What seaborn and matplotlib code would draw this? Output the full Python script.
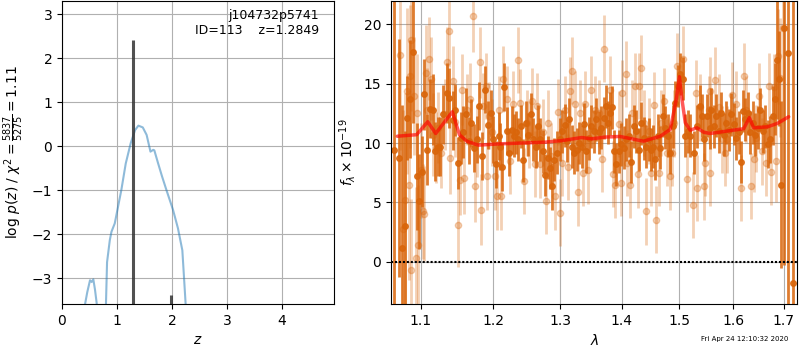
import numpy as np
import matplotlib
matplotlib.use("Agg")
import matplotlib.pyplot as plt
import matplotlib.ticker as mticker
import seaborn as sns

# ---- p(z) panel ----
pz_z = [0.40, 0.42, 0.46, 0.51, 0.54, 0.57, 0.60, 0.63, 0.66, 0.72, 0.78, 0.80, 0.82,
        0.87, 0.90, 0.96, 1.02, 1.08, 1.16, 1.25, 1.33, 1.39, 1.47, 1.54, 1.61, 1.66,
        1.68, 1.75, 1.82, 1.90, 2.02, 2.11, 2.19, 2.25, 2.27]
pz_logp = [-4.0, -3.58, -3.31, -3.04, -3.08, -3.02, -3.25, -3.55, -4.0, -5.0, -4.0, -3.58, -2.63,
           -2.13, -1.94, -1.75, -1.37, -0.99, -0.39, 0.07, 0.37, 0.47, 0.43, 0.26, -0.12, -0.08,
           -0.09, -0.39, -0.68, -0.99, -1.44, -1.86, -2.36, -3.58, -4.2]
zbar_z = [1.2849, 1.976]
zbar_top = [2.42, -3.37]

# ---- spectrum panel: beam 1 (dark) ----
wave1 = [1.0649, 1.0717, 1.0756, 1.0791, 1.0821, 1.0856, 1.0899, 1.0944, 1.0975, 1.1010,
         1.1045, 1.1084, 1.1120, 1.1156, 1.1187, 1.1223, 1.1255, 1.1299, 1.1346, 1.1381,
         1.1427, 1.1459, 1.1496, 1.1538, 1.1574, 1.1612, 1.1650, 1.1682, 1.1724, 1.1762,
         1.1799, 1.1842, 1.1880, 1.1919, 1.1962, 1.1999, 1.2039, 1.2078, 1.2097, 1.2130,
         1.2159, 1.2194, 1.2232, 1.2267, 1.2301, 1.2331, 1.2365, 1.2405, 1.2440, 1.2480,
         1.2515, 1.2555, 1.2590, 1.2626, 1.2657, 1.2692, 1.2733, 1.2769, 1.2810, 1.2846,
         1.2881, 1.2912, 1.2949, 1.2990, 1.3027, 1.3068, 1.3105, 1.3142, 1.3184, 1.3221,
         1.3258, 1.3301, 1.3344, 1.3376, 1.3414, 1.3451, 1.3494, 1.3531, 1.3571, 1.3613,
         1.3657, 1.3695, 1.3731, 1.3764, 1.3797, 1.3827, 1.3872, 1.3906, 1.3944, 1.3984,
         1.4028, 1.4068, 1.4112, 1.4153, 1.4198, 1.4244, 1.4284, 1.4330, 1.4370, 1.4417,
         1.4456, 1.4498, 1.4533, 1.4573, 1.4613, 1.4661, 1.4708, 1.4749, 1.4790, 1.4838,
         1.4886, 1.4928, 1.4969, 1.5017, 1.5066, 1.5108, 1.5150, 1.5199, 1.5259, 1.5322,
         1.5370, 1.5414, 1.5457, 1.5507, 1.5555, 1.5588, 1.5630, 1.5676, 1.5725, 1.5770,
         1.5820, 1.5871, 1.5915, 1.5960, 1.6010, 1.6063, 1.6107, 1.6146, 1.6192, 1.6237,
         1.6282, 1.6335, 1.6389, 1.6434, 1.6480, 1.6533, 1.6587, 1.6633, 1.6679, 1.6733,
         1.6779, 1.6828, 1.6868, 1.6909, 1.6955, 1.7017, 1.7084, 1.7187]
flux1 = [9.45, 8.75, 1.2, 3.0, 12.1, 13.7, 17.7, 7.2, 5.1, 7.6,
         14.1, 9.45, 12.9, 12.8, 9.3, 9.7, 9.7, 12.4, 14.2, 13.8,
         11.9, 12.8, 8.3, 10.4, 10.9, 12.4, 10.2, 11.7, 9.6, 10.3,
         13.1, 8.9, 14.5, 11.5, 12.5, 10.3, 8.2, 10.6, 9.7, 8.0,
         14.7, 11.0, 9.2, 11.1, 10.6, 10.9, 10.3, 11.4, 8.55, 11.7,
         10.7, 12.4, 10.3, 9.7, 11.4, 10.3, 9.3, 7.3, 8.75, 7.9,
         6.35, 8.6, 9.2, 10.3, 11.0, 11.5, 10.2, 12.0, 9.7, 9.2,
         9.45, 10.0, 9.7, 11.6, 9.3, 10.4, 11.4, 11.0, 12.0, 10.9,
         11.3, 12.1, 13.1, 11.7, 12.5, 13.0, 9.3, 8.2, 9.3, 9.9,
         9.6, 10.3, 10.6, 8.4, 11.4, 11.0, 9.45, 11.65, 10.4, 9.7,
         10.3, 9.45, 9.7, 8.65, 10.6, 9.6, 12.3, 11.3, 10.6, 9.2,
         11.4, 13.4, 14.8, 15.8, 15.4, 10.6, 11.0, 10.6, 9.2, 11.4,
         13.1, 12.3, 10.3, 12.3, 11.3, 12.8, 11.4, 12.3, 11.0, 12.5,
         10.7, 11.7, 11.1, 12.4, 11.6, 10.4, 10.9, 8.4, 12.7, 12.0,
         12.5, 10.9, 11.7, 10.7, 11.3, 12.8, 11.0, 11.4, 9.9, 10.3,
         12.3, 13.7, 17.0, 15.4, 6.5, 19.7, 17.6, -1.8]
err1 = [15, 10, 12, 8, 3.5, 5, 6, 4.5, 4, 3,
        3, 3, 2.5, 3, 2.5, 2.5, 2.5, 2.5, 2.5, 2.5,
        2.5, 2.2, 2.2, 2.2, 2.2, 2.2, 2.0, 2.0, 2.0, 2.0,
        2.0, 2.0, 2.0, 2.0, 2.0, 2.0, 2.0, 2.0, 2.0, 2.0,
        2.0, 2.0, 2.0, 2.0, 1.8, 1.8, 1.8, 1.8, 1.8, 1.8,
        1.8, 1.8, 1.8, 1.8, 1.8, 1.8, 1.8, 1.8, 1.8, 1.8,
        2.0, 1.8, 1.8, 1.8, 1.8, 1.8, 1.8, 1.8, 1.8, 1.8,
        1.8, 1.8, 1.8, 1.8, 1.8, 1.8, 1.8, 1.8, 1.8, 1.8,
        1.8, 1.8, 1.8, 1.8, 1.8, 1.8, 1.8, 1.8, 1.8, 1.8,
        1.8, 1.8, 1.8, 1.8, 1.8, 1.8, 1.8, 1.8, 1.8, 1.8,
        1.8, 1.8, 1.8, 1.8, 1.8, 1.8, 1.8, 1.8, 1.8, 1.8,
        1.8, 1.8, 1.8, 1.8, 1.8, 1.8, 1.8, 1.8, 1.8, 1.8,
        1.8, 1.8, 1.8, 1.8, 1.8, 1.8, 1.8, 1.8, 1.8, 1.8,
        1.8, 1.8, 1.8, 1.8, 1.8, 1.8, 1.8, 1.8, 1.8, 1.8,
        1.8, 1.8, 1.8, 1.8, 1.8, 1.8, 1.8, 1.8, 2.0, 2.0,
        2.5, 3.0, 5.0, 4.0, 7.0, 20.0, 25.0, 30.0]

# ---- spectrum panel: beam 2 (light) ----
wave2 = [1.0726, 1.0761, 1.0791, 1.0813, 1.0843, 1.0856, 1.0869, 1.0873, 1.0909, 1.0931,
         1.0952, 1.0965, 1.0997, 1.1023, 1.1045, 1.1063, 1.1084, 1.1111, 1.1137, 1.1164,
         1.1196, 1.1232, 1.1264, 1.1316, 1.1354, 1.1381, 1.1390, 1.1427, 1.1459, 1.1505,
         1.1528, 1.1552, 1.1584, 1.1619, 1.1668, 1.1714, 1.1738, 1.1771, 1.1806, 1.1827,
         1.1856, 1.1895, 1.1909, 1.1942, 1.1976, 1.2024, 1.2049, 1.2086, 1.2111, 1.2145,
         1.2203, 1.2242, 1.2291, 1.2356, 1.2390, 1.2455, 1.2491, 1.2530, 1.2575, 1.2616,
         1.2642, 1.2684, 1.2741, 1.2784, 1.2819, 1.2861, 1.2923, 1.2974, 1.2997, 1.3035,
         1.3079, 1.3121, 1.3157, 1.3194, 1.3237, 1.3274, 1.3317, 1.3354, 1.3386, 1.3441,
         1.3483, 1.3548, 1.3621, 1.3670, 1.3703, 1.3806, 1.3844, 1.3889, 1.3952, 1.3989,
         1.4009, 1.4074, 1.4094, 1.4129, 1.4170, 1.4215, 1.4266, 1.4292, 1.4318, 1.4378,
         1.4411, 1.4465, 1.4503, 1.4543, 1.4591, 1.4631, 1.4678, 1.4719, 1.4779, 1.4826,
         1.4869, 1.4910, 1.4958, 1.5059, 1.5139, 1.5248, 1.5303, 1.5327, 1.5383, 1.5444,
         1.5475, 1.5537, 1.5559, 1.5568, 1.5663, 1.5734, 1.5780, 1.5839, 1.5884, 1.5970,
         1.6057, 1.6153, 1.6214, 1.6257, 1.6345, 1.6414, 1.6454, 1.6500, 1.6567, 1.6647,
         1.6699, 1.6747, 1.6814, 1.6854, 1.6880, 1.6935, 1.6990]
flux2 = [17.4, 2.75, 5.2, 14.4, 6.5, 15.6, 18.7, -0.7, 13.95, 0.3,
         12.5, 1.45, 7.7, 4.25, 4.05, 15.9, 12.8, 17.1, 15.4, 10.7,
         9.6, 11.3, 9.2, 12.4, 16.8, 19.4, 8.75, 15.2, 11.8, 3.1,
         6.9, 14.5, 7.05, 12.8, 13.7, 20.65, 6.35, 10.15, 16.8, 4.4,
         13.1, 14.8, 7.2, 12.3, 10.9, 7.2, 5.5, 12.8, 5.5, 15.4,
         13.7, 8.5, 13.25, 17.0, 13.4, 6.8, 11.7, 10.7, 13.5, 8.25,
         13.1, 8.2, 10.9, 5.1, 11.7, 8.9, 5.5, 12.6, 4.15, 8.3,
         12.8, 8.0, 14.4, 16.1, 13.25, 5.85, 12.5, 7.5, 13.3, 7.7,
         14.5, 12.8, 12.5, 8.65, 17.95, 14.5, 7.4, 6.5, 11.6, 6.65,
         14.2, 15.8, 8.3, 6.5, 12.5, 14.8, 7.35, 14.8, 16.3, 11.7,
         4.25, 11.0, 7.5, 13.2, 3.55, 7.5, 11.7, 13.5, 9.2, 7.2,
         9.2, 11.65, 16.5, 17.05, 7.0, 4.8, 14.2, 6.2, 13.0, 6.35,
         8.3, 12.8, 7.5, 14.4, 15.3, 13.0, 10.3, 9.2, 10.3, 14.0,
         13.25, 6.2, 15.6, 12.8, 6.4, 8.65, 10.4, 13.95, 9.3, 8.3,
         14.8, 7.6, 14.7, 8.5, 17.3, 15.5, 19.7]
err2 = [8, 10, 9, 7, 8, 6, 6, 6, 5, 6,
        5, 5, 4, 4, 4, 4, 3.5, 3.5, 3.5, 3.5,
        3, 3, 3, 3, 3, 3, 3, 3, 3, 3.5,
        3, 3, 3, 3, 3, 3, 3, 3, 3, 3,
        2.8, 2.8, 2.8, 2.8, 2.8, 2.8, 2.8, 2.8, 2.8, 2.8,
        2.8, 2.8, 2.8, 2.8, 2.8, 2.8, 2.8, 2.8, 2.8, 2.8,
        2.8, 2.8, 2.8, 2.8, 2.8, 2.8, 2.8, 2.8, 2.8, 2.8,
        2.8, 2.8, 2.8, 2.8, 2.8, 2.8, 2.8, 2.8, 2.8, 2.8,
        2.8, 2.8, 2.8, 2.8, 2.8, 2.8, 2.8, 2.8, 2.8, 2.8,
        2.8, 2.8, 2.8, 2.8, 2.8, 2.8, 2.8, 2.8, 2.8, 2.8,
        2.8, 2.8, 2.8, 2.8, 2.8, 2.8, 2.8, 2.8, 2.8, 2.8,
        2.8, 2.8, 2.8, 2.8, 2.8, 2.8, 2.8, 2.8, 2.8, 2.8,
        2.8, 2.8, 2.8, 2.8, 2.8, 2.8, 2.8, 2.8, 2.8, 2.8,
        2.8, 2.8, 2.8, 2.8, 2.8, 2.8, 2.8, 2.8, 2.8, 2.8,
        2.8, 2.8, 2.8, 3.5, 4, 5, 8]

# ---- best-fit model ----
model_wave = [1.0691, 1.0943, 1.1089, 1.1196, 1.1422, 1.1519, 1.1622, 1.1785, 1.2094, 1.2764,
              1.3023, 1.3340, 1.3502, 1.3720, 1.3970, 1.4367, 1.4658, 1.4837, 1.4945, 1.5000,
              1.5047, 1.5107, 1.5197, 1.5320, 1.5443, 1.5568, 1.6000, 1.6203, 1.6315, 1.6399,
              1.6672, 1.6873, 1.7104]
model_flux = [10.57, 10.7, 11.79, 10.8, 12.63, 10.7, 10.15, 9.82, 9.93, 10.07,
              10.2, 10.46, 10.35, 10.5, 10.55, 10.15, 10.57, 11.14, 13.67, 15.58,
              13.67, 11.7, 11.08, 11.28, 10.91, 10.8, 11.08, 11.2, 12.13, 11.28,
              11.36, 11.65, 12.21]

wave_ticks = [1.1, 1.2, 1.3, 1.4, 1.5, 1.6, 1.7]

sns.set_style("ticks", {"axes.edgecolor": "black", "xtick.color": "black",
                        "ytick.color": "black", "text.color": "black",
                        "axes.labelcolor": "black"})
plt.rcParams["font.family"] = ["DejaVu Sans"]

fig = plt.figure(figsize=(8, 3.5), dpi=100)
ax1 = fig.add_axes([0.0775, 0.1314, 0.340, 0.8657])
ax2 = fig.add_axes([0.48875, 0.1314, 0.5081, 0.8657])

# p(z)
sns.lineplot(x=pz_z, y=pz_logp, ax=ax1, color="#1f77b4", alpha=0.5, lw=1.5)
ax1.vlines(zbar_z, -10, zbar_top, color="0.2", alpha=0.85, lw=2.2)
ax1.set_xlim(0, 4.95)
ax1.set_ylim(-3.58, 3.30)
ax1.set_xlabel("$z$")
ax1.set_ylabel(r"log $p(z)$ / $\chi^2=\frac{5837}{5275}=1.11$")
ax1.grid(True, color="#b0b0b0", lw=0.8)
ax1.text(0.945, 0.975, "j104732p5741\nID=113    z=1.2849", transform=ax1.transAxes,
         ha="right", va="top", fontsize=9)

# spectrum
orange = "#d9650a"
ax2.errorbar(wave2, flux2, yerr=err2, marker="o", ms=4.5, ls="none",
             color=orange, alpha=0.3, elinewidth=2, zorder=1)
ax2.errorbar(wave1, flux1, yerr=err1, marker="o", ms=4, ls="none",
             color=orange, alpha=0.85, elinewidth=2, zorder=2)
sns.lineplot(x=model_wave, y=model_flux, ax=ax2, color="red", alpha=0.65, lw=2.5, zorder=3)
ax2.axhline(0, color="black", lw=1.5, dashes=(1, 0.9), zorder=4)

ax2.set_xscale("log")
ax2.set_xlim(1.0611, 1.7285)
ax2.xaxis.set_major_locator(mticker.FixedLocator(wave_ticks))
ax2.xaxis.set_major_formatter(mticker.FormatStrFormatter("%.1f"))
ax2.xaxis.set_minor_locator(mticker.NullLocator())
ax2.set_ylim(-3.55, 21.95)
ax2.set_xlabel(r"$\lambda$")
ax2.set_ylabel(r"$f_\lambda\times10^{-19}$")
ax2.grid(True, color="#b0b0b0", lw=0.8)

fig.text(0.985, 0.03, "Fri Apr 24 12:10:32 2020", ha="right", va="center", fontsize=5)

fig.savefig("out.png", dpi=100)
